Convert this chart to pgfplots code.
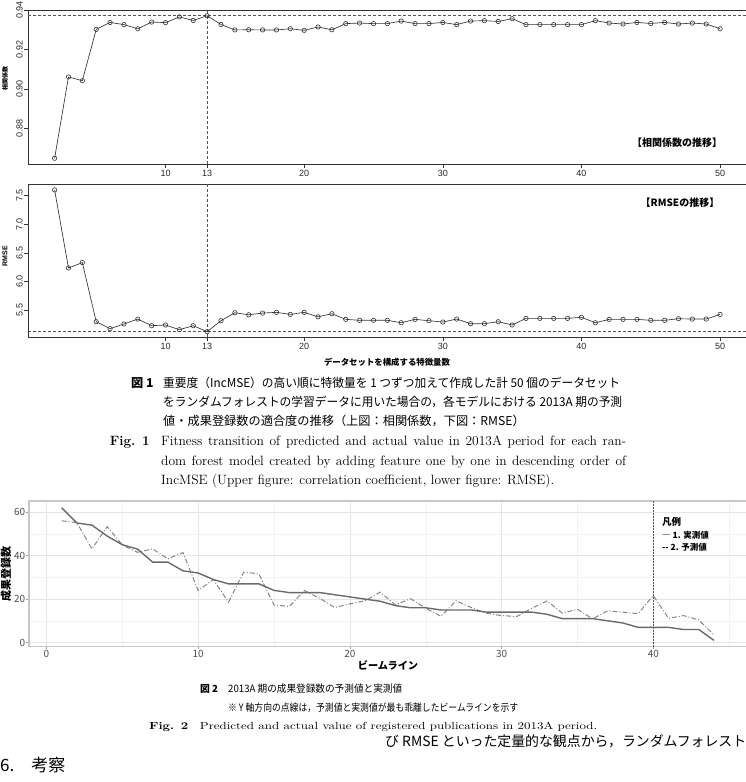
\documentclass[border=0pt]{standalone}
\usepackage{fontspec}
\usepackage{graphicx}
\usepackage{pgfplots}
\pgfplotsset{compat=1.18}
\newfontfamily\jp{Noto Sans CJK JP}
\newfontfamily\helv{Liberation Sans}
\definecolor{rink}{HTML}{333333}
\definecolor{refline}{HTML}{555555}
\definecolor{actual}{HTML}{6A6A6A}
\definecolor{pred}{HTML}{858585}

% correlation coefficient per number of features
\pgfplotstableread{
n r
2 0.8650
3 0.9062
4 0.9043
5 0.9303
6 0.9338
7 0.9327
8 0.9306
9 0.9340
10 0.9337
11 0.9366
12 0.9348
13 0.9372
14 0.9328
15 0.9300
16 0.9301
17 0.9300
18 0.9300
19 0.9306
20 0.9298
21 0.9315
22 0.9301
23 0.9332
24 0.9335
25 0.9332
26 0.9332
27 0.9345
28 0.9332
29 0.9332
30 0.9338
31 0.9327
32 0.9345
33 0.9347
34 0.9343
35 0.9357
36 0.9327
37 0.9327
38 0.9327
39 0.9327
40 0.9327
41 0.9347
42 0.9335
43 0.9330
44 0.9338
45 0.9333
46 0.9338
47 0.9330
48 0.9335
49 0.9330
50 0.9306
}\corrtable

% RMSE per number of features
\pgfplotstableread{
n e
2 7.600
3 6.236
4 6.330
5 5.297
6 5.175
7 5.257
8 5.343
9 5.227
10 5.239
11 5.157
12 5.227
13 5.123
14 5.314
15 5.453
16 5.418
17 5.448
18 5.460
19 5.425
20 5.460
21 5.383
22 5.436
23 5.338
24 5.321
25 5.321
26 5.321
27 5.279
28 5.338
29 5.314
30 5.291
31 5.343
32 5.262
33 5.262
34 5.297
35 5.239
36 5.355
37 5.355
38 5.355
39 5.355
40 5.373
41 5.279
42 5.338
43 5.338
44 5.338
45 5.321
46 5.321
47 5.349
48 5.343
49 5.343
50 5.425
}\rmsetable

% registered publications per beamline: actual and predicted
\pgfplotstableread{
bl act pre
1 62 56.0
2 55 55.2
3 54 43.1
4 49 53.3
5 45 44.9
6 43 41.5
7 37 43.1
8 37 38.5
9 33 41.4
10 32 23.9
11 29 29.0
12 27 18.6
13 27 32.4
14 27 31.6
15 24 17.3
16 23 16.6
17 23 23.9
18 23 20.4
19 22 16.1
20 21 17.8
21 20 19.2
22 19 23.2
23 17 17.3
24 16 20.2
25 16 15.8
26 15 12.1
27 15 19.2
28 15 16.1
29 14 13.5
30 14 12.4
31 14 12.0
32 14 15.8
33 13 19.2
34 11 13.5
35 11 15.3
36 11 10.9
37 10 14.6
38 9 14.0
39 7 13.3
40 7 21.6
41 7 11.2
42 6 12.4
43 6 10.4
44 1 3.5
}\bltable

\pgfplotsset{
  rbase/.style={
    scale only axis, width=718.7pt,
    xmin=0.08, xmax=51.92,
    axis line style={black!80, line width=0.8pt},
    tick align=outside, major tick length=4pt, tick pos=left,
    tick style={black!80, line width=0.6pt},
    xtick={10,13,20,30,40,50}, xticklabels={10,13,20,30,40,50},
    ticklabel style={font=\helv\fontsize{9}{9}\selectfont, text=black!85},
    xticklabel style={anchor=north, inner sep=2pt},
    yticklabel style={rotate=90, anchor=south, inner sep=1pt},
  },
  rseries/.style={rink, line width=0.65pt, mark=o, mark size=2.2pt,
    mark options={solid, fill=white, draw=rink, line width=0.6pt}},
  rref/.style={refline, line width=0.6pt, dash pattern=on 3pt off 2pt},
}

\begin{document}
\begin{tikzpicture}[x=1pt,y=1pt]
\useasboundingbox (0pt,0pt) rectangle (746pt,-782pt);

% ---- correlation coefficient ----
\begin{axis}[rbase, at={(28pt,-164pt)}, anchor=south west, height=154pt,
  ymin=0.8621, ymax=0.9401,
  ytick={0.88,0.90,0.92,0.94}, yticklabels={0.88,0.90,0.92,0.94}]
\addplot[rref] coordinates {(0.08,0.9372) (51.92,0.9372)};
\addplot[rref] coordinates {(13,0.8621) (13,0.9401)};
\addplot[rseries] table[x=n, y=r] {\corrtable};
\end{axis}
\node[font=\jp\bfseries\fontsize{6}{6}\selectfont, rotate=90] at (5pt,-78pt) {相関係数};
\node[font=\jp\bfseries\fontsize{10}{11}\selectfont] at (677pt,-143pt) {【相関係数の推移】};

% ---- RMSE ----
\begin{axis}[rbase, at={(28pt,-337.3pt)}, anchor=south west, height=153pt,
  ymin=5.024, ymax=7.699,
  ytick={5.5,6.0,6.5,7.0,7.5}, yticklabels={5.5,6.0,6.5,7.0,7.5}]
\addplot[rref] coordinates {(0.08,5.123) (51.92,5.123)};
\addplot[rref] coordinates {(13,5.024) (13,7.699)};
\addplot[rseries] table[x=n, y=e] {\rmsetable};
\end{axis}
\node[font=\helv\bfseries\fontsize{7}{7}\selectfont, rotate=90] at (5pt,-256pt) {RMSE};
\node[font=\jp\bfseries\fontsize{10}{11}\selectfont] at (680pt,-203pt) {【RMSEの推移】};
\node[font=\jp\bfseries\fontsize{8.4}{9}\selectfont] at (387pt,-362pt) {データセットを構成する特徴量数};

% ---- caption of figure 1 ----
\node[anchor=west, inner sep=0pt, font=\jp\bfseries\fontsize{12.2}{13}\selectfont] at (131pt,-383pt) {図 1};
\node[anchor=west, inner sep=0pt] at (163pt,-383pt) {\resizebox{457pt}{\height}{\jp\fontsize{12.2}{13}\selectfont 重要度（IncMSE）の高い順に特徴量を 1 つずつ加えて作成した計 50 個のデータセット}};
\node[anchor=west, inner sep=0pt] at (163pt,-402pt) {\resizebox{459pt}{\height}{\jp\fontsize{12.2}{13}\selectfont をランダムフォレストの学習データに用いた場合の，各モデルにおける 2013A 期の予測}};
\node[anchor=west, inner sep=0pt, font=\jp\fontsize{12.2}{13}\selectfont] at (163pt,-421pt) {値・成果登録数の適合度の推移（上図：相関係数，下図：RMSE）};
\node[anchor=east, inner sep=0pt, font=\fontsize{13.5}{14}\selectfont\bfseries] at (150pt,-442pt) {Fig. 1};
\node[anchor=west, inner sep=0pt, font=\fontsize{13.5}{14}\selectfont] at (161pt,-442pt) {\makebox[465pt][s]{Fitness transition of predicted and actual value in 2013A period for each ran-}};
\node[anchor=west, inner sep=0pt, font=\fontsize{13.5}{14}\selectfont] at (161pt,-462pt) {\makebox[465pt][s]{dom forest model created by adding feature one by one in descending order of}};
\node[anchor=west, inner sep=0pt, font=\fontsize{13.5}{14}\selectfont] at (161pt,-481pt) {IncMSE (Upper figure: correlation coefficient, lower figure: RMSE).};

% ---- registered publications per beamline ----
\begin{axis}[at={(29pt,-646.7pt)}, anchor=south west, scale only axis,
  width=717.6pt, height=145.7pt,
  xmin=-1.15, xmax=46.15, ymin=-1.9, ymax=65.1,
  xtick={0,10,20,30,40}, xticklabels={0,10,20,30,40},
  ytick={0,20,40,60}, yticklabels={0,20,40,60},
  minor xtick={5,15,25,35,45}, minor ytick={10,30,50},
  grid=both,
  major grid style={color=black!10, line width=0.5pt},
  minor grid style={color=black!5, line width=0.4pt},
  axis line style={black!22, line width=1.2pt},
  tick align=outside, major tick length=2.5pt, minor tick length=0pt,
  tick pos=left, tick style={black!40, line width=0.5pt},
  ticklabel style={font=\jp\fontsize{10}{10}\selectfont, text=black!70},
  xticklabel style={inner sep=0.5pt},
  yticklabel style={inner sep=1pt}]
\addplot[black!65, line width=0.5pt, densely dotted] coordinates {(40,-1.9) (40,65.1)};
\addplot[pred, line width=1pt, dash pattern=on 5pt off 2pt on 1pt off 2pt] table[x=bl, y=pre] {\bltable};
\addplot[actual, line width=1.4pt] table[x=bl, y=act] {\bltable};
\end{axis}
\node[font=\jp\bfseries\fontsize{11}{12}\selectfont, rotate=90] at (6pt,-574pt) {成果登録数};
\node[font=\jp\bfseries\fontsize{10.2}{11}\selectfont] at (388pt,-665pt) {ビームライン};
\node[anchor=west, inner sep=0pt, font=\jp\bfseries\fontsize{9.5}{10}\selectfont] at (662pt,-522pt) {凡例};
\node[anchor=west, inner sep=0pt, font=\jp\bfseries\fontsize{8.5}{9}\selectfont] at (662pt,-535pt) {― 1. 実測値};
\node[anchor=west, inner sep=0pt, font=\jp\bfseries\fontsize{8.5}{9}\selectfont] at (662pt,-547pt) {-{}- 2. 予測値};

% ---- caption of figure 2 ----
\node[anchor=west, inner sep=0pt, font=\jp\bfseries\fontsize{9.8}{10}\selectfont] at (200pt,-689pt) {図 2};
\node[anchor=west, inner sep=0pt] at (228pt,-689pt) {\resizebox{174pt}{\height}{\jp\fontsize{10.2}{11}\selectfont 2013A 期の成果登録数の予測値と実測値}};
\node[anchor=west, inner sep=0pt] at (228pt,-708pt) {\resizebox{290pt}{\height}{\jp\fontsize{10.2}{11}\selectfont ※ Y 軸方向の点線は，予測値と実測値が最も乖離したビームラインを示す}};
\node[anchor=west, inner sep=0pt] at (149pt,-727pt) {\resizebox{448pt}{\height}{\fontsize{10.3}{11}\selectfont\textbf{Fig. 2}\hspace{0.9em}Predicted and actual value of registered publications in 2013A period.}};

% ---- body text ----
\node[anchor=west, inner sep=0pt] at (385pt,-741pt) {\resizebox{361pt}{\height}{\jp\fontsize{14}{15}\selectfont び RMSE といった定量的な観点から，ランダムフォレスト}};
\node[anchor=west, inner sep=0pt, font=\jp\fontsize{17}{18}\selectfont] at (0pt,-765pt) {6.　考察};
\end{tikzpicture}
\end{document}
